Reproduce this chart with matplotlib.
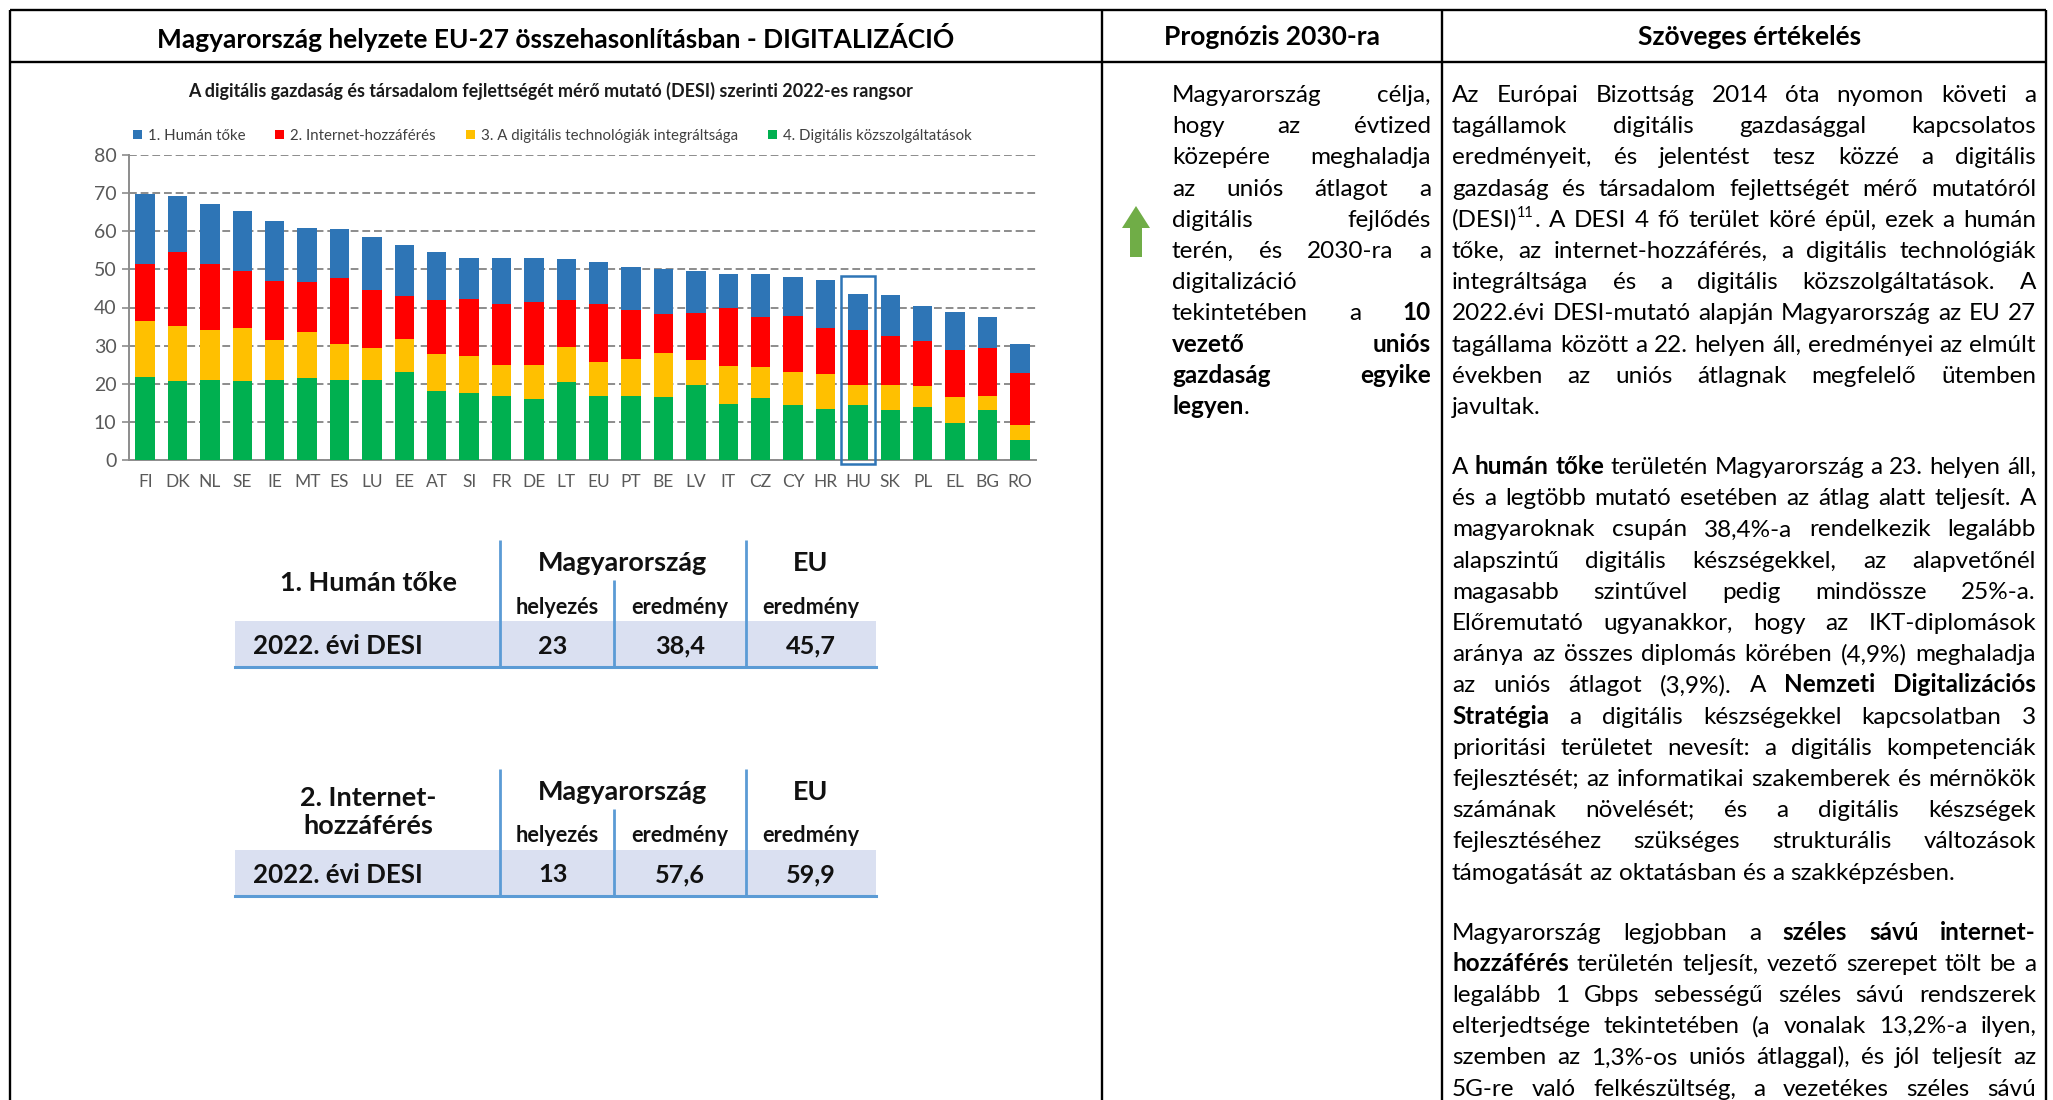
import numpy as np
import matplotlib
matplotlib.use("Agg")
import matplotlib.pyplot as plt
from matplotlib.transforms import Affine2D
from matplotlib.lines import Line2D
from matplotlib.patches import Rectangle, FancyArrow

plt.rcParams['font.family'] = ['Lato', 'DejaVu Sans']

# DESI 2022 scores, stacked by dimension
countries = ["FI", "DK", "NL", "SE", "IE", "MT", "ES", "LU", "EE", "AT", "SI", "FR", "DE", "LT",
             "EU", "PT", "BE", "LV", "IT", "CZ", "CY", "HR", "HU", "SK", "PL", "EL", "BG", "RO"]
human = [18.3, 14.7, 15.6, 15.6, 15.7, 14.1, 12.8, 14.1, 13.3, 12.5, 10.9, 12.2, 11.5, 10.6,
         11.1, 11.4, 11.9, 11.0, 8.9, 11.3, 10.2, 12.7, 9.5, 10.8, 9.2, 9.9, 8.1, 7.6]
internet = [15.0, 19.4, 17.5, 15.1, 15.4, 13.2, 17.2, 15.1, 11.3, 14.2, 15.0, 16.1, 16.6, 12.3,
            15.1, 12.9, 10.2, 12.5, 15.3, 13.2, 14.8, 12.0, 14.2, 12.6, 11.7, 12.3, 12.5, 13.6]
integration = [14.8, 14.4, 13.0, 13.7, 10.6, 12.0, 9.5, 8.4, 8.8, 9.7, 9.7, 7.9, 8.8, 9.3,
               8.9, 9.5, 11.6, 6.4, 9.9, 8.2, 8.8, 9.1, 5.5, 6.7, 5.6, 6.8, 3.9, 3.8]
public = [21.7, 20.8, 21.0, 20.8, 21.0, 21.5, 21.0, 21.0, 23.0, 18.1, 17.5, 16.9, 16.0, 20.4,
          16.9, 16.9, 16.4, 19.7, 14.8, 16.2, 14.3, 13.4, 14.3, 13.1, 13.9, 9.7, 13.0, 5.3]
series_names = ["1. Humán tőke", "2. Internet-hozzáférés",
                "3. A digitális technológiák integráltsága", "4. Digitális közszolgáltatások"]
series_colors = ["#2e75b6", "#ff0000", "#ffc000", "#00b050"]

# small tables under the chart
tab_names = ["1. Humán tőke", "2. Internet-\nhozzáférés"]
hu_rank = [23, 13]
hu_score = [38.4, 57.6]
eu_score = [45.7, 59.9]

chart_title = "A digitális gazdaság és társadalom fejlettségét mérő mutató (DESI) szerinti 2022-es rangsor"
headers = ["Magyarország helyzete EU-27 összehasonlításban - DIGITALIZÁCIÓ",
           "Prognózis 2030-ra", "Szöveges értékelés"]

mid_lines = [
    "Magyarország célja,",
    "hogy az évtized",
    "közepére meghaladja",
    "az uniós átlagot a",
    "digitális fejlődés",
    "terén, és 2030-ra a",
    "digitalizáció",
    "tekintetében a **10**",
    "**vezető uniós**",
    "**gazdaság egyike**",
    "**legyen**.",
]
par1 = [
    "Az Európai Bizottság 2014 óta nyomon követi a",
    "tagállamok digitális gazdasággal kapcsolatos",
    "eredményeit, és jelentést tesz közzé a digitális",
    "gazdaság és társadalom fejlettségét mérő mutatóról",
    "(DESI)^{11}. A DESI 4 fő terület köré épül, ezek a humán",
    "tőke, az internet-hozzáférés, a digitális technológiák",
    "integráltsága és a digitális közszolgáltatások. A",
    "2022.évi DESI-mutató alapján Magyarország az EU 27",
    "tagállama között a 22. helyen áll, eredményei az elmúlt",
    "években az uniós átlagnak megfelelő ütemben",
    "javultak.",
]
par2 = [
    "A **humán tőke** területén Magyarország a 23. helyen áll,",
    "és a legtöbb mutató esetében az átlag alatt teljesít. A",
    "magyaroknak csupán 38,4%-a rendelkezik legalább",
    "alapszintű digitális készségekkel, az alapvetőnél",
    "magasabb szintűvel pedig mindössze 25%-a.",
    "Előremutató ugyanakkor, hogy az IKT-diplomások",
    "aránya az összes diplomás körében (4,9%) meghaladja",
    "az uniós átlagot (3,9%). A **Nemzeti Digitalizációs**",
    "**Stratégia** a digitális készségekkel kapcsolatban 3",
    "prioritási területet nevesít: a digitális kompetenciák",
    "fejlesztését; az informatikai szakemberek és mérnökök",
    "számának növelését; és a digitális készségek",
    "fejlesztéséhez szükséges strukturális változások",
    "támogatását az oktatásban és a szakképzésben.",
]
par3 = [
    "Magyarország legjobban a **széles sávú internet-**",
    "**hozzáférés** területén teljesít, vezető szerepet tölt be a",
    "legalább 1 Gbps sebességű széles sávú rendszerek",
    "elterjedtsége tekintetében (a vonalak 13,2%-a ilyen,",
    "szemben az 1,3%-os uniós átlaggal), és jól teljesít az",
    "5G-re való felkészültség, a vezetékes széles sávú",
]

W, H = 2053, 1100
fig = plt.figure(figsize=(W / 100, H / 100), dpi=100)
# page coordinates in pixels, y going down
page = Affine2D().scale(1 / W, -1 / H).translate(0, 1) + fig.transFigure
renderer = fig.canvas.get_renderer()


def text_w(s, size, weight="normal"):
    t = fig.text(0, 0, s, fontsize=size, fontweight=weight)
    w = t.get_window_extent(renderer).width
    t.remove()
    return w


def fit(s, width, weight="normal"):
    return 20 * width / text_w(s, 20, weight)


def parse(line):
    words = [[]]
    bold = False
    for k, part in enumerate(line.split("**")):
        if k > 0:
            bold = not bold
        pieces = []
        rest = part
        while "^{" in rest:
            a, b = rest.split("^{", 1)
            sup, rest = b.split("}", 1)
            pieces += [(a, False), (sup, True)]
        pieces.append((rest, False))
        for txt, sup in pieces:
            for j, c in enumerate(txt.split(" ")):
                if j > 0:
                    words.append([])
                if c:
                    words[-1].append((c, bold, sup))
    return [w for w in words if w]


def space_w(size):
    return text_w("a a", size) - text_w("aa", size)


def natural_w(line, size):
    words = parse(line)
    tot = 0
    for w in words:
        for txt, bold, sup in w:
            tot += text_w(txt, size * 0.6 if sup else size, "bold" if bold else "normal")
    return tot + (len(words) - 1) * space_w(size)


def place(line, x0, x1, yc, size, justify):
    px = size * 100 / 72
    base = yc + 0.33 * px
    words = parse(line)
    items, widths = [], []
    for w in words:
        segs, ww = [], 0
        for txt, bold, sup in w:
            t = fig.text(0, 0, txt, fontsize=size * 0.6 if sup else size,
                         fontweight="bold" if bold else "normal",
                         transform=page, ha="left", va="baseline", color="black")
            sw = t.get_window_extent(renderer).width
            segs.append((t, sw, sup))
            ww += sw
        items.append(segs)
        widths.append(ww)
    if justify and len(words) > 1:
        gap = (x1 - x0 - sum(widths)) / (len(words) - 1)
    else:
        gap = space_w(size)
    x = x0
    for segs in items:
        for t, sw, sup in segs:
            t.set_position((x, base - (0.4 * px if sup else 0)))
            x += sw
        x += gap


def hline(x0, x1, y, **kw):
    fig.add_artist(Line2D([x0, x1], [y, y], transform=page, **kw))


def vline(x, y0, y1, **kw):
    fig.add_artist(Line2D([x, x], [y0, y1], transform=page, **kw))


# ---- page frame ----
frame = dict(color="black", lw=1.7, solid_capstyle="butt")
hline(10, 2046, 10, **frame)
hline(10, 2046, 62, **frame)
for xb in [10, 1102, 1442, 2046]:
    vline(xb, 10, 1100, **frame)

hdr_size = fit(headers[0], 800, "bold")
for s, xc in zip(headers, [556, 1272, 1750]):
    fig.text(xc, 37, s, transform=page, ha="center", va="center",
             fontsize=hdr_size, fontweight="bold")

# ---- stacked bar chart ----
ax = fig.add_axes([129 / W, 1 - 460 / H, (1036 - 129) / W, (460 - 155) / H])
x = np.arange(len(countries))
stack = [public, integration, internet, human]
colors = series_colors[::-1]
bottom = np.zeros(len(countries))
containers = []
for vals, col in zip(stack, colors):
    vals = np.array(vals)
    containers.append(ax.bar(x, vals, 0.6, bottom=bottom, color=col, zorder=3))
    bottom += vals
totals = bottom

ax.set_xlim(-0.5, len(countries) - 0.5)
ax.set_ylim(0, 80)
ax.set_yticks(np.arange(0, 81, 10))
ax.set_xticks(x)
ax.set_xticklabels(countries)
ax.yaxis.grid(True, color="#8c8c8c", linestyle=(0, (4, 2)), lw=1.4)
ax.set_axisbelow(True)
for sp in ["top", "right"]:
    ax.spines[sp].set_visible(False)
for sp in ["left", "bottom"]:
    ax.spines[sp].set_color("#8c8c8c")
    ax.spines[sp].set_linewidth(1.4)
ax.tick_params(axis="y", length=5, width=1.2, color="#8c8c8c", labelsize=14,
               labelcolor="#595959", pad=4)
ax.tick_params(axis="x", length=0, labelsize=12.5, labelcolor="#595959", pad=10)

hu = countries.index("HU")
ax.add_patch(Rectangle((hu - 0.53, -1.1), 1.06, totals[hu] + 4.7 + 1.1, fill=False,
                       ec="#2e75b6", lw=1.8, clip_on=False, zorder=5))

title_size = fit(chart_title, 722, "bold")
fig.text(551, 91, chart_title, transform=page, ha="center", va="center",
         fontsize=title_size, fontweight="bold", color="#1a1a1a")

leg_size = fit(series_names[2], 257)
leg_px = leg_size * 100 / 72
sum_w = sum(text_w(s, leg_size) for s in series_names)
colsp = (839 - sum_w - 4 * 1.0 * leg_px) / 3 / leg_px
fig.legend(containers[::-1], series_names, loc="center",
           bbox_to_anchor=(552 / W, 1 - 136 / H), ncol=4, frameon=False,
           fontsize=leg_size, handlelength=0.6, handleheight=0.6,
           handletextpad=0.4, columnspacing=colsp, borderpad=0,
           labelcolor="#404040")

# ---- tables ----
blue = "#5b9bd5"
shade = "#dae0f1"
big = fit("Magyarország", 169, "bold")
small = fit("eredmény", 97, "bold")
rowf = fit("2022. évi DESI", 169, "bold")
valf = fit("38,4", 50, "bold")
for k, t0 in enumerate([540, 769]):
    fig.add_artist(Rectangle((235, t0 + 81), 641, 46, transform=page,
                             facecolor=shade, edgecolor="none"))
    tl = dict(color=blue, lw=2.0, solid_capstyle="butt")
    vline(500, t0, t0 + 127, **tl)
    vline(746, t0, t0 + 127, **tl)
    vline(614, t0 + 40, t0 + 127, **tl)
    hline(235, 876, t0 + 127, color=blue, lw=2.2)
    tx = dict(transform=page, ha="center", va="center", fontweight="bold", color="#111111")
    fig.text(368, t0 + 43, tab_names[k], fontsize=big, linespacing=1.25, **tx)
    fig.text(623, t0 + 23, "Magyarország", fontsize=big, **tx)
    fig.text(811, t0 + 23, "EU", fontsize=big, **tx)
    fig.text(557, t0 + 67, "helyezés", fontsize=small, **tx)
    fig.text(680, t0 + 67, "eredmény", fontsize=small, **tx)
    fig.text(811, t0 + 67, "eredmény", fontsize=small, **tx)
    fig.text(253, t0 + 106, "2022. évi DESI", fontsize=rowf, transform=page,
             ha="left", va="center", fontweight="bold", color="#111111")
    fig.text(553, t0 + 106, str(hu_rank[k]), fontsize=valf, **tx)
    fig.text(680, t0 + 106, f"{hu_score[k]:.1f}".replace(".", ","), fontsize=valf, **tx)
    fig.text(811, t0 + 106, f"{eu_score[k]:.1f}".replace(".", ","), fontsize=valf, **tx)

# ---- text columns ----
RX0, RX1 = 1452, 2036
MX0, MX1 = 1172, 1431
max_r = max(natural_w(l, 20) for l in par1 + par2 + par3)
max_m = max(natural_w(l, 20) for l in mid_lines)
body = min(20 * (RX1 - RX0) * 0.995 / max_r, 20 * (MX1 - MX0) * 0.995 / max_m)

step, para_gap, y = 31.2, 60, 94
for k, line in enumerate(mid_lines):
    words = parse(line)
    place(line, MX0, MX1, y + k * step, body,
          justify=(k < len(mid_lines) - 1 and len(words) > 1))

yy = y
for par, ends in [(par1, True), (par2, True), (par3, False)]:
    for k, line in enumerate(par):
        place(line, RX0, RX1, yy, body, justify=not (ends and k == len(par) - 1))
        yy += step
    yy += para_gap - step

fig.add_artist(FancyArrow(1136, 257, 0, -51, width=12, head_width=28, head_length=22,
                          length_includes_head=True, transform=page,
                          color="#70ad47", lw=0))

fig.savefig("out.png", dpi=100)
